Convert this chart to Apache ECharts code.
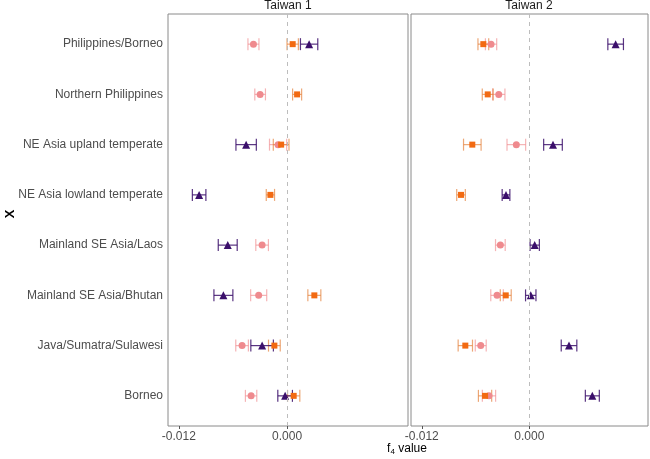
<!DOCTYPE html>
<html>
<head>
<meta charset="utf-8">
<script src="https://cdn.jsdelivr.net/npm/echarts@6/dist/echarts.min.js"></script>
<style>html,body{margin:0;padding:0;background:#fff}#c{width:650px;height:459px}</style>
</head>
<body>
<div id="c"></div>
<script>
// Categories, top to bottom
var categories = ["Philippines/Borneo","Northern Philippines","NE Asia upland temperate","NE Asia lowland temperate","Mainland SE Asia/Laos","Mainland SE Asia/Bhutan","Java/Sumatra/Sulawesi","Borneo"];
var panels = ["Taiwan 1","Taiwan 2"];
var xTicks = [-0.012, 0.000];

// Panel "Taiwan 1": estimates and half-widths of error bars (null = absent)
var t1CircleVal  = [-0.00373,-0.00299,-0.00100, null,   -0.00277,-0.00315,-0.00499,-0.00399];
var t1CircleErr  = [ 0.00061, 0.00059, 0.00095, null,    0.00070, 0.00089, 0.00070, 0.00063];
var t1SquareVal  = [ 0.00062, 0.00111,-0.00066,-0.00185, null,    0.00302,-0.00141, 0.00073];
var t1SquareErr  = [ 0.00063, 0.00050, 0.00087, 0.00046, null,    0.00072, 0.00065, 0.00068];
var t1TriVal     = [ 0.00244, null,   -0.00454,-0.00975,-0.00658,-0.00706,-0.00277,-0.00022];
var t1TriErr     = [ 0.00096, null,    0.00113, 0.00075, 0.00105, 0.00105, 0.00125, 0.00081];

// Panel "Taiwan 2"
var t2CircleVal  = [-0.00427,-0.00341,-0.00145, null,   -0.00323,-0.00360,-0.00542,-0.00450];
var t2CircleErr  = [ 0.00063, 0.00069, 0.00104, null,    0.00054, 0.00070, 0.00061, 0.00074];
var t2SquareVal  = [-0.00513,-0.00464,-0.00636,-0.00762, null,   -0.00263,-0.00714,-0.00494];
var t2SquareErr  = [ 0.00060, 0.00061, 0.00098, 0.00048, null,    0.00061, 0.00080, 0.00074];
var t2TriVal     = [ 0.00963, null,    0.00264,-0.00260, 0.00060, 0.00016, 0.00443, 0.00703];
var t2TriErr     = [ 0.00087, null,    0.00104, 0.00043, 0.00052, 0.00058, 0.00087, 0.00078];

var groups = [
  {name:"Group A", symbol:"circle",   size:7, color:"#EF8A8E", bar:"rgba(239,138,142,0.65)"},
  {name:"Group B", symbol:"rect",     size:6, color:"#F26A12", bar:"rgba(228,130,60,0.7)"},
  {name:"Group C", symbol:"triangle", size:8, color:"#3B0F6B", bar:"rgba(59,15,107,0.85)"}
];
var panelData = [
  [[t1CircleVal,t1CircleErr],[t1SquareVal,t1SquareErr],[t1TriVal,t1TriErr]],
  [[t2CircleVal,t2CircleErr],[t2SquareVal,t2SquareErr],[t2TriVal,t2TriErr]]
];

var FONT = "Liberation Sans, Arial, sans-serif";
var chart = echarts.init(document.getElementById('c'), null, {renderer:'canvas'});

function makeErr(color){
  return function(params, api){
    var y = api.value(0), lo = api.value(1), hi = api.value(2);
    var p1 = api.coord([lo, y]), p2 = api.coord([hi, y]);
    var h = 6, st = {stroke: color, lineWidth: 1.2};
    return {type:'group', children:[
      {type:'line', shape:{x1:p1[0],y1:p1[1],x2:p2[0],y2:p2[1]}, style:st},
      {type:'line', shape:{x1:p1[0],y1:p1[1]-h,x2:p1[0],y2:p1[1]+h}, style:st},
      {type:'line', shape:{x1:p2[0],y1:p2[1]-h,x2:p2[0],y2:p2[1]+h}, style:st}
    ]};
  };
}

var grids = [
  {left:168, top:14, width:240, height:412, show:true, borderColor:'#8a8a8a', borderWidth:1, backgroundColor:'#fff'},
  {left:411, top:14, width:237, height:412, show:true, borderColor:'#8a8a8a', borderWidth:1, backgroundColor:'#fff'}
];
var xRanges = [[-0.0132, 0.0134], [-0.0132, 0.01324]];
var xAxes = [], yAxes = [], series = [];
for (var p = 0; p < 2; p++) {
  xAxes.push({
    type:'value', gridIndex:p, min:xRanges[p][0], max:xRanges[p][1], position:'bottom',
    splitLine:{show:false}, axisLine:{show:false, onZero:false},
    axisTick:{show:true, customValues:xTicks, length:3, inside:false, lineStyle:{color:'#555'}},
    axisLabel:{customValues:xTicks, formatter:function(v){return v.toFixed(3);}, color:'#4D4D4D', fontSize:12, fontFamily:FONT, margin:5}
  });
  yAxes.push({
    type:'value', gridIndex:p, min:-0.6, max:7.6, inverse:true, position:'left',
    splitLine:{show:false}, axisLine:{show:false, onZero:false}, axisTick:{show:false},
    axisLabel:{show:p===0, customValues:[0,1,2,3,4,5,6,7], formatter:function(v){return categories[Math.round(v)] || '';}, color:'#4D4D4D', fontSize:12, fontFamily:FONT, margin:5}
  });
  for (var g = 0; g < 3; g++) {
    var vals = panelData[p][g][0], errs = panelData[p][g][1];
    var errData = [], ptData = [];
    for (var i = 0; i < categories.length; i++) {
      if (vals[i] === null) continue;
      errData.push([i, vals[i]-errs[i], vals[i]+errs[i]]);
      ptData.push([vals[i], i]);
    }
    var es = {
      type:'custom', name:groups[g].name, xAxisIndex:p, yAxisIndex:p,
      renderItem:makeErr(groups[g].bar), data:errData,
      encode:{x:[1,2], y:0}, silent:true, z:2
    };
    if (g === 0) {
      es.markLine = {silent:true, symbol:'none', label:{show:false},
        lineStyle:{color:'#BDBDBD', type:[4,4], width:1}, data:[{xAxis:0}]};
    }
    series.push(es);
    series.push({
      type:'scatter', name:groups[g].name, xAxisIndex:p, yAxisIndex:p,
      symbol:groups[g].symbol, symbolSize:groups[g].size, data:ptData,
      itemStyle:{color:groups[g].color, opacity:1}, z:3
    });
  }
}

chart.setOption({
  animation:false,
  backgroundColor:'#fff',
  grid:grids, xAxis:xAxes, yAxis:yAxes, series:series,
  graphic:[
    {type:'text', x:288, y:6, style:{text:panels[0], font:'12px '+FONT, fill:'#1a1a1a', textAlign:'center', textVerticalAlign:'middle'}},
    {type:'text', x:529, y:6, style:{text:panels[1], font:'12px '+FONT, fill:'#1a1a1a', textAlign:'center', textVerticalAlign:'middle'}},
    {type:'text', x:10, y:214, rotation:Math.PI/2, style:{text:'X', font:'bold 13px '+FONT, fill:'#000', textAlign:'center', textVerticalAlign:'middle'}},
    {type:'text', x:407, y:449, style:{
      text:'{a|f}{s|4}{a| value}', textAlign:'center', textVerticalAlign:'middle',
      rich:{a:{fontSize:12, fontFamily:FONT, color:'#000'}, s:{fontSize:8, fontFamily:FONT, color:'#000', padding:[6,0,0,0]}}
    }}
  ]
});
</script>
</body>
</html>
